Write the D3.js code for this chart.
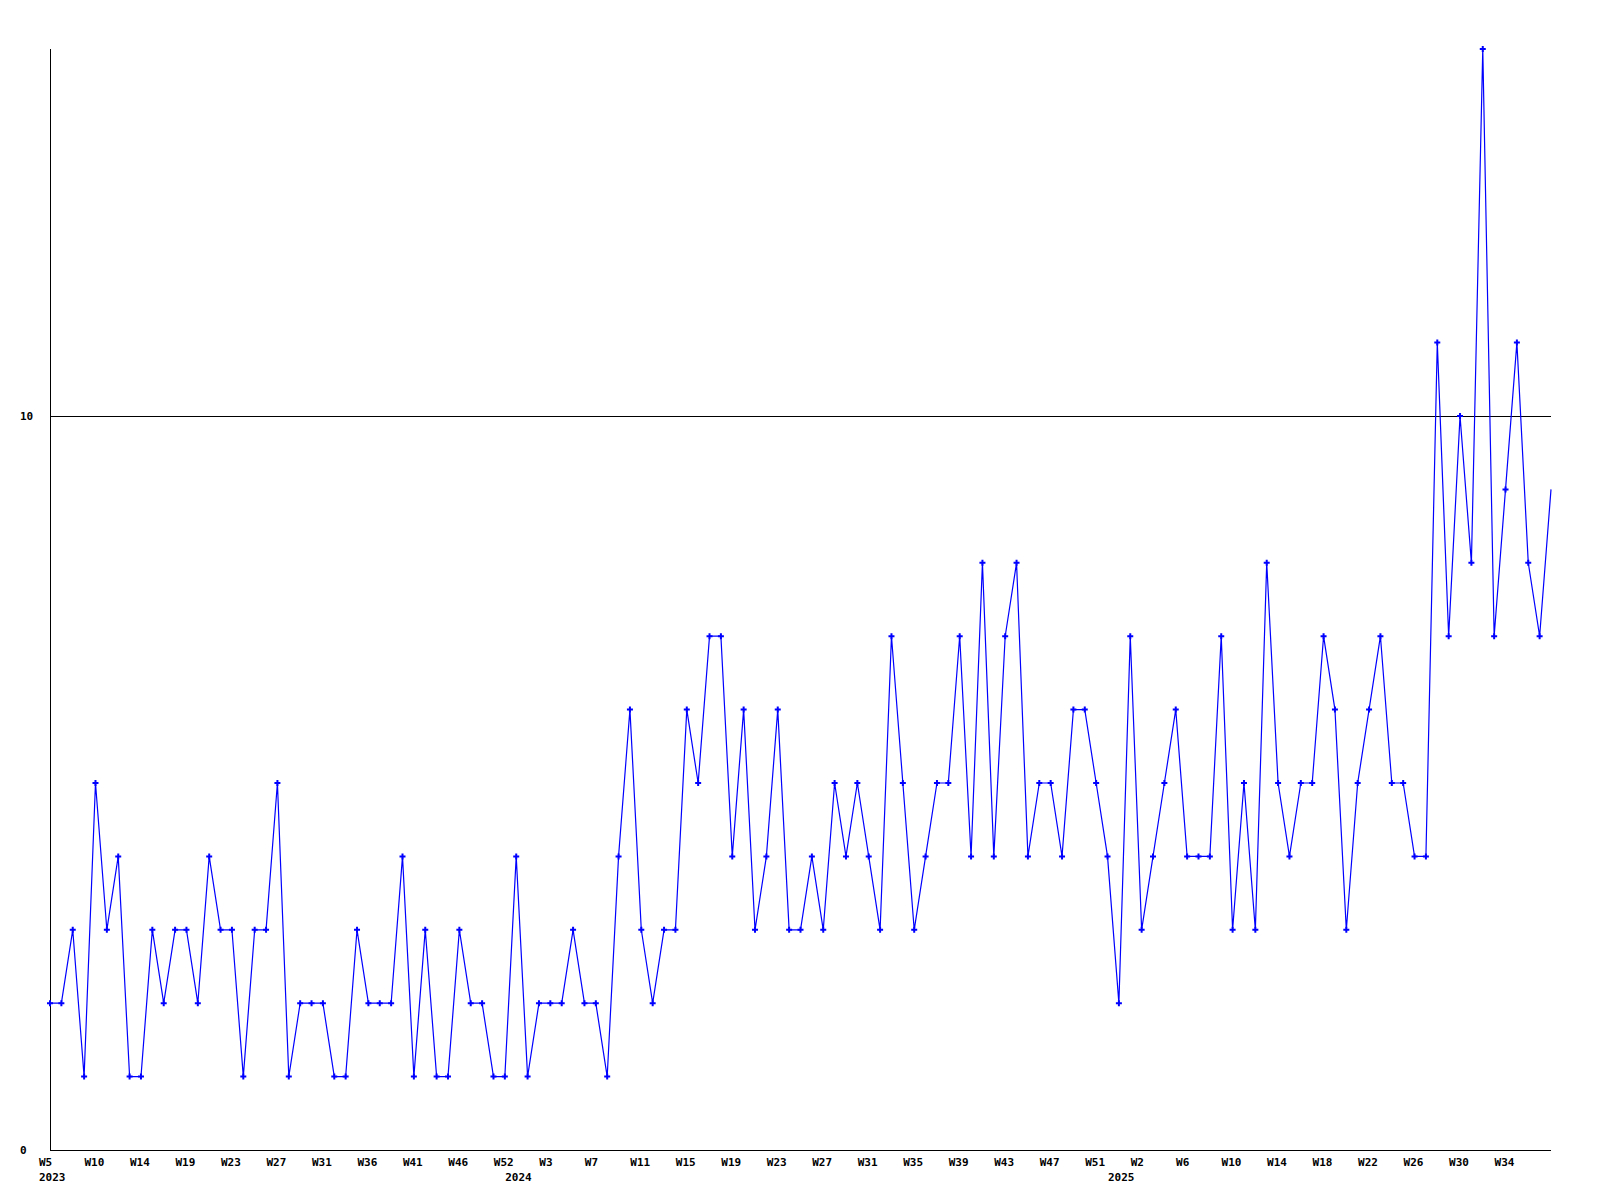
<!DOCTYPE html>
<html>
<head>
<meta charset="utf-8">
<script src="https://cdn.jsdelivr.net/npm/d3@7"></script>
<style>
  html, body { margin: 0; padding: 0; background: #ffffff; }
  svg { display: block; }
  text { font-family: "DejaVu Sans Mono", "Liberation Mono", monospace; font-weight: bold; font-size: 11px; fill: #000; }
</style>
</head>
<body>
<svg id="chart" width="1600" height="1200"></svg>
<script>
// ---- data ----
const values = [
  2, 2, 3, 1, 5, 3, 4, 1, 1, 3,
  2, 3, 3, 2, 4, 3, 3, 1, 3, 3,
  5, 1, 2, 2, 2, 1, 1, 3, 2, 2,
  2, 4, 1, 3, 1, 1, 3, 2, 2, 1,
  1, 4, 1, 2, 2, 2, 3, 2, 2, 1,
  4, 6, 3, 2, 3, 3, 6, 5, 7, 7,
  4, 6, 3, 4, 6, 3, 3, 4, 3, 5,
  4, 5, 4, 3, 7, 5, 3, 4, 5, 5,
  7, 4, 8, 4, 7, 8, 4, 5, 5, 4,
  6, 6, 5, 4, 2, 7, 3, 4, 5, 6,
  4, 4, 4, 7, 3, 5, 3, 8, 5, 4,
  5, 5, 7, 6, 3, 5, 6, 7, 5, 5,
  4, 4, 11, 7, 10, 8, 15, 7, 9, 11,
  8, 7, 9
];
const weekTickLabels = [
  "W5", "W10", "W14", "W19", "W23", "W27", "W31", "W36", "W41", "W46", "W52",
  "W3", "W7", "W11", "W15", "W19", "W23", "W27", "W31", "W35", "W39", "W43", "W47", "W51",
  "W2", "W6", "W10", "W14", "W18", "W22", "W26", "W30", "W34"
];
const weekTickEvery = 4;
const yearLabels = ["2023", "2024", "2025"];
const yearStartIndex = [0, 41, 94];
const yTickValues = [0, 10];
const yMax = 15;

// ---- layout ----
const plotLeft = 50, plotRight = 1551, plotTop = 49, plotBottom = 1150;
const svg = d3.select("#chart");

const x = d3.scaleLinear().domain([0, values.length - 1]).range([plotLeft, plotRight]);
const y = d3.scaleLinear().domain([0, yMax]).range([plotBottom, plotTop]);

// gridline at 10
svg.append("g")
  .selectAll("line")
  .data(yTickValues.filter(v => v > 0))
  .join("line")
  .attr("x1", plotLeft).attr("x2", plotRight)
  .attr("y1", d => Math.round(y(d)) + 0.5).attr("y2", d => Math.round(y(d)) + 0.5)
  .attr("stroke", "#000").attr("stroke-width", 1)
  .attr("shape-rendering", "crispEdges");

// axes lines
svg.append("line")
  .attr("x1", plotLeft + 0.5).attr("x2", plotLeft + 0.5)
  .attr("y1", plotTop).attr("y2", plotBottom + 1)
  .attr("stroke", "#000").attr("shape-rendering", "crispEdges");
svg.append("line")
  .attr("x1", plotLeft).attr("x2", plotRight)
  .attr("y1", plotBottom + 0.5).attr("y2", plotBottom + 0.5)
  .attr("stroke", "#000").attr("shape-rendering", "crispEdges");

// y axis labels
const yAxis = d3.axisLeft(y).tickValues(yTickValues).tickSize(0).tickFormat(d3.format("d"));
const gy = svg.append("g").attr("transform", `translate(${plotLeft},0)`).call(yAxis);
gy.select(".domain").remove();
gy.selectAll("text")
  .attr("x", 20 - plotLeft)
  .attr("dy", "0.35em")
  .attr("text-anchor", "start")
  .style("font-family", "'DejaVu Sans Mono', monospace")
  .style("font-weight", "bold")
  .style("font-size", "11px");

// x axis week labels
const tickIdx = weekTickLabels.map((_, i) => i * weekTickEvery);
const xAxis = d3.axisBottom(x).tickValues(tickIdx).tickSize(0)
  .tickFormat((d, i) => weekTickLabels[i]);
const gx = svg.append("g").attr("transform", `translate(0,${plotBottom})`).call(xAxis);
gx.select(".domain").remove();
gx.selectAll("text")
  .attr("x", -11.5)
  .attr("y", 12)
  .attr("dy", "0.35em")
  .attr("text-anchor", "start")
  .style("font-family", "'DejaVu Sans Mono', monospace")
  .style("font-weight", "bold")
  .style("font-size", "11px");

// year labels
svg.append("g")
  .selectAll("text")
  .data(yearLabels)
  .join("text")
  .attr("x", (d, i) => x(yearStartIndex[i]) - 11)
  .attr("y", plotBottom + 27)
  .attr("dy", "0.35em")
  .attr("text-anchor", "start")
  .text(d => d);

// series line
const line = d3.line().x((d, i) => x(i)).y(d => y(d));
svg.append("path")
  .datum(values)
  .attr("d", line)
  .attr("fill", "none")
  .attr("stroke", "#0000ff")
  .attr("stroke-width", 1.2);

// markers (last point sits on the plot edge without a marker)
const cross = d3.symbol().type(d3.symbolCross).size(20);
svg.append("g")
  .selectAll("path")
  .data(values.slice(0, values.length - 1))
  .join("path")
  .attr("transform", (d, i) => `translate(${x(i)},${y(d)})`)
  .attr("d", cross)
  .attr("fill", "#0000ff");
</script>
</body>
</html>
